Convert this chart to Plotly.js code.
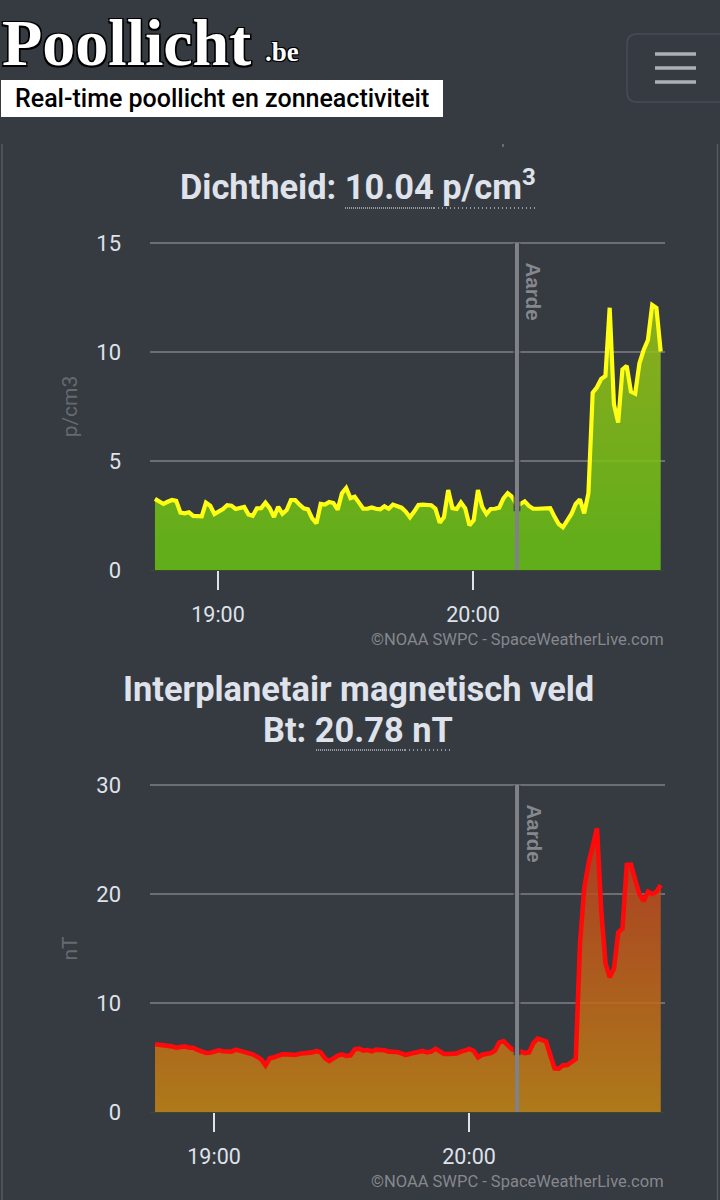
<!DOCTYPE html>
<html>
<head>
<meta charset="utf-8">
<script src="https://cdn.plot.ly/plotly-3.0.1.min.js"></script>
<style>html,body{margin:0;padding:0;background:#363a41}#chart{width:720px;height:1200px}</style>
</head>
<body>
<div id="chart"></div>
<script>
const densityValues = [3.26,3.13,3.03,3.13,3.21,3.17,2.63,2.6,2.65,2.48,2.48,2.46,3.09,2.95,2.57,2.66,2.8,2.97,2.95,2.8,2.86,2.89,2.55,2.49,2.83,2.84,3.09,2.84,2.43,2.9,2.58,2.75,3.21,3.21,3.0,2.83,2.78,2.37,2.14,3.03,3.0,3.12,3.07,2.77,3.52,3.76,3.3,3.36,3.09,2.81,2.81,2.87,2.81,2.78,2.92,2.81,3.0,2.95,2.86,2.68,2.42,2.68,2.98,3.0,2.97,2.97,2.81,2.17,2.42,3.67,2.84,2.8,3.1,2.83,2.05,2.29,3.67,2.9,2.57,2.8,2.81,2.86,3.29,3.52,3.36,3.03,3.03,3.15,2.94,2.81,2.81,2.81,2.83,2.84,2.45,2.11,1.96,2.23,2.57,3.03,3.24,2.6,3.52,8.13,8.38,8.76,8.9,12.03,7.6,6.76,9.2,9.36,8.18,8.09,9.48,10.09,10.55,12.16,12.02,10.02];
const btValues = [6.21,6.18,6.12,6.09,6.02,5.9,5.99,6.02,5.9,5.9,5.69,5.54,5.41,5.44,5.54,5.66,5.57,5.54,5.54,5.72,5.63,5.47,5.41,5.29,5.08,4.83,4.28,4.92,5.02,5.14,5.29,5.29,5.29,5.23,5.35,5.38,5.44,5.47,5.6,5.47,4.92,4.68,4.92,5.17,5.29,5.14,5.2,5.75,5.81,5.63,5.69,5.57,5.72,5.72,5.66,5.54,5.54,5.5,5.38,5.23,5.35,5.47,5.57,5.6,5.47,5.54,5.81,5.54,5.32,5.32,5.32,5.38,5.54,5.69,5.78,5.6,5.02,5.26,5.35,5.41,5.63,6.39,6.51,6.09,5.75,5.69,5.57,5.41,5.47,6.3,6.73,6.57,6.48,5.23,4.01,3.98,4.28,4.31,4.59,4.86,15.47,20.52,22.81,24.5,26.02,18.5,13.64,12.35,13.18,16.48,16.85,22.66,22.69,21.28,19.97,19.36,20.21,20.0,20.21,20.83];
const densityStart = "2024-05-10 18:45:10";
const btStart = "2024-05-10 18:46:07";
const densityRange = ["2024-05-10 18:44:00","2024-05-10 20:45:11"];
const btRange = ["2024-05-10 18:44:56","2024-05-10 20:46:07"];
const densityEarth = "2024-05-10 20:10:21";
const btEarth = "2024-05-10 20:11:18";
const hourTicks = ["2024-05-10 19:00:00","2024-05-10 20:00:00"];
const hourLabels = ["19:00","20:00"];

function minutesFrom(start, count) {
  const t0 = Date.parse(start.replace(" ", "T") + "Z");
  const out = [];
  for (let i = 0; i < count; i++) out.push(new Date(t0 + i * 60000).toISOString().slice(0, 19).replace("T", " "));
  return out;
}
const px = x => x / 720;
const py = y => 1 - y / 1200;
const BG = "#363a41", LIGHT = "#dfe2ea", MUTED = "#85888d", GRID = "#6c6e72";
const pageFont = "Roboto, sans-serif";

const traces = [
  { x: minutesFrom(densityStart, densityValues.length), y: densityValues, xaxis: "x", yaxis: "y", type: "scatter", mode: "lines",
    line: { color: "#ffff14", width: 4.2 }, fill: "tozeroy",
    fillgradient: { type: "vertical", colorscale: [[0, "rgba(102,194,19,0.85)"], [1, "rgba(155,192,24,0.85)"]] }, hoverinfo: "skip" },
  { x: minutesFrom(btStart, btValues.length), y: btValues, xaxis: "x2", yaxis: "y2", type: "scatter", mode: "lines",
    line: { color: "#ff0a0a", width: 4.6 }, fill: "tozeroy",
    fillgradient: { type: "vertical", colorscale: [[0, "rgba(195,133,19,0.85)"], [1, "rgba(190,60,30,0.85)"]] }, hoverinfo: "skip" }
];

function xAxis(range, anchor) {
  return { domain: [px(150), px(665)], range: range, type: "date", anchor: anchor, showgrid: false, zeroline: false, showline: false,
    tickvals: hourTicks, ticktext: hourLabels, ticks: "outside", ticklen: 19, tickwidth: 2, tickcolor: LIGHT, ticklabelstandoff: 6,
    tickfont: { family: pageFont, size: 21.5, color: LIGHT } };
}
function yAxis(range, anchor, top, bottom, vals, name) {
  return { domain: [py(bottom), py(top)], range: range, anchor: anchor, tickvals: vals, ticktext: vals.map(String), showgrid: true, gridcolor: GRID, gridwidth: 2,
    zeroline: true, zerolinecolor: "#3b4a2c", zerolinewidth: 1, showline: false, ticks: "", ticklabelstandoff: 28,
    title: { text: name, font: { family: pageFont, size: 21, color: "#666a70" }, standoff: 12 },
    tickfont: { family: pageFont, size: 22, color: LIGHT } };
}

function pageText(text, x, y, size, color, opts) {
  return Object.assign({ text: text, xref: "paper", yref: "paper", x: px(x), y: py(y), xanchor: "center", yanchor: "middle", showarrow: false,
    font: { family: pageFont, size: size, color: color } }, opts || {});
}
const outline = "-1.5px -1.5px 0 #000,1.5px -1.5px 0 #000,-1.5px 1.5px 0 #000,1.5px 1.5px 0 #000";
const annotations = [
  pageText("Poollicht", 0, 42, 66, "#ffffff", { xanchor: "left", font: { family: "'Liberation Serif', serif", size: 66, color: "#ffffff", weight: 700, shadow: outline } }),
  pageText(".be", 263, 52, 27, "#ffffff", { xanchor: "left", font: { family: "'Liberation Serif', serif", size: 27, color: "#ffffff", weight: 700, shadow: "-1px -1px 0 #000,1px -1px 0 #000,-1px 1px 0 #000,1px 1px 0 #000" } }),
  pageText("Real-time poollicht en zonneactiviteit", 13, 98, 25, "#000", { xanchor: "left", font: { family: pageFont, size: 25, color: "#000", weight: 500 } }),
  pageText("Dichtheid: 10.04 p/cm<sup>3</sup>", 358, 185, 34.4, LIGHT, { font: { family: pageFont, size: 34.4, color: LIGHT, weight: 700 } }),
  pageText("Interplanetair magnetisch veld", 358, 689, 34.4, LIGHT, { font: { family: pageFont, size: 34.4, color: LIGHT, weight: 700 } }),
  pageText("Bt: 20.78 nT", 358, 730, 34.4, LIGHT, { font: { family: pageFont, size: 34.4, color: LIGHT, weight: 700 } }),
  pageText("©NOAA SWPC - SpaceWeatherLive.com", 666, 639, 16.5, MUTED, { xanchor: "right" }),
  pageText("©NOAA SWPC - SpaceWeatherLive.com", 666, 1181, 16.5, MUTED, { xanchor: "right" }),
  { text: "Aarde", xref: "x", yref: "paper", x: densityEarth, y: py(291.5), xshift: 17, xanchor: "center", yanchor: "middle", textangle: 90, showarrow: false, font: { family: "'Liberation Sans', sans-serif", size: 20.5, color: "#85888d", weight: 700 } },
  { text: "Aarde", xref: "x2", yref: "paper", x: btEarth, y: py(833.5), xshift: 17, xanchor: "center", yanchor: "middle", textangle: 90, showarrow: false, font: { family: "'Liberation Sans', sans-serif", size: 20.5, color: "#85888d", weight: 700 } }
];

function hLine(x0, x1, y, color, width, dash, layer) {
  return { type: "line", xref: "paper", yref: "paper", x0: px(x0), x1: px(x1), y0: py(y), y1: py(y), layer: layer || "above", line: { color: color, width: width, dash: dash || "solid" } };
}
function vLine(x, y0, y1, color, width) {
  return { type: "line", xref: "paper", yref: "paper", x0: px(x), x1: px(x), y0: py(y0), y1: py(y1), line: { color: color, width: width } };
}
function earthLine(xr, yr, x, color, width) {
  return { type: "line", xref: xr, yref: yr + " domain", x0: x, x1: x, y0: 0, y1: 1, layer: "above", line: { color: color, width: width } };
}
function earthHalo(xr, yr, x, yFrom, yTo) {
  return { type: "line", xref: xr, yref: yr, x0: x, x1: x, y0: yFrom, y1: yTo, layer: "above", line: { color: "rgba(54,58,65,0.75)", width: 7 } };
}
const P = (x, y) => px(x) + "," + py(y);
const shapes = [
  { type: "rect", xref: "paper", yref: "paper", x0: px(1), x1: px(443), y0: py(117), y1: py(80), fillcolor: "#ffffff", line: { width: 0 }, layer: "below" },
  { type: "path", xref: "paper", yref: "paper", layer: "below", line: { color: "#484c54", width: 1.5 },
    path: "M " + P(720, 34) + " L " + P(637, 34) + " Q " + P(627, 34) + " " + P(627, 44) + " L " + P(627, 92) + " Q " + P(627, 102) + " " + P(637, 102) + " L " + P(720, 102) },
  hLine(655, 696, 54, "#adb0b4", 3.5), hLine(655, 696, 68, "#adb0b4", 3.5), hLine(655, 696, 82, "#adb0b4", 3.5),
  vLine(2, 144, 1200, "#565a60", 1.5), vLine(717.5, 144, 1200, "#565a60", 1.5), vLine(503, 144, 147, "#7a7d82", 1.5),
  hLine(150, 665, 243, GRID, 2, "solid", "below"), hLine(150, 665, 785, GRID, 2, "solid", "below"),
  hLine(345, 434, 208, "#b6b9c0", 1.5, "1px,1px"), hLine(434, 536, 208, "#b6b9c0", 1.5, "1px,3px"),
  hLine(316, 405, 750, "#b6b9c0", 1.5, "1px,1px"), hLine(405, 452, 750, "#b6b9c0", 1.5, "1px,3px"),
  earthHalo("x", "y", densityEarth, 2.7, 15),
  earthHalo("x2", "y2", btEarth, 5.2, 30),
  earthLine("x", "y", densityEarth, "#7f8286", 4),
  earthLine("x2", "y2", btEarth, "#7f8286", 4)
];

const layout = {
  width: 720, height: 1200, margin: { l: 0, r: 0, t: 0, b: 0, pad: 0 }, paper_bgcolor: BG, plot_bgcolor: BG, showlegend: false,
  font: { family: pageFont, color: LIGHT },
  xaxis: xAxis(densityRange, "y"), yaxis: yAxis([0, 15], "x", 243, 570, [0, 5, 10, 15], "p/cm3"),
  xaxis2: xAxis(btRange, "y2"), yaxis2: yAxis([0, 30], "x2", 785, 1112, [0, 10, 20, 30], "nT"),
  annotations: annotations, shapes: shapes
};
Plotly.newPlot("chart", traces, layout, { staticPlot: true, displayModeBar: false });
</script>
</body>
</html>
